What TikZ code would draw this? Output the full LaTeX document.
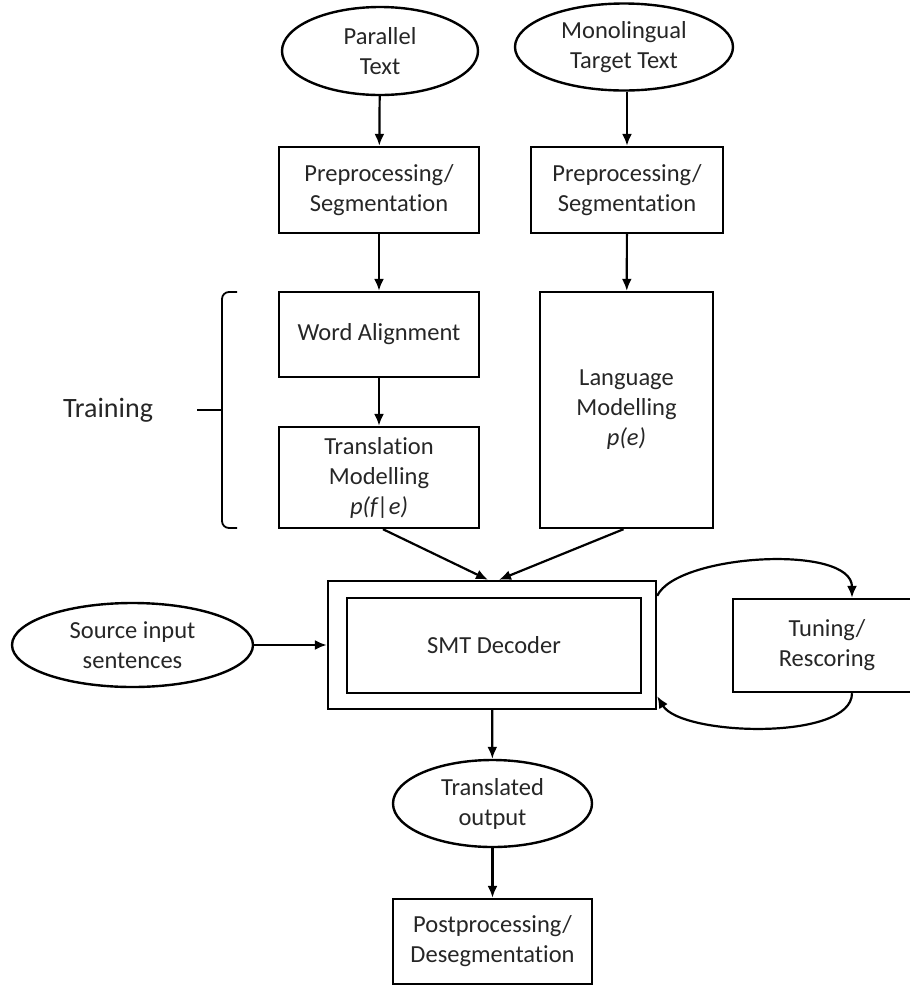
\documentclass[tikz,border=0pt]{standalone}
\usepackage{fontspec}
\setmainfont{Carlito}[RawFeature={-liga;-clig;-calt}]
\usetikzlibrary{arrows.meta,calc,shapes.geometric}
% keep "t" and "i" as separate glyphs
\newcommand{\tisep}{\kern0pt }

\begin{document}
\begin{tikzpicture}[x=1pt,y=-1pt,
  every node/.style={text=black!85, font=\fontsize{24.5}{30}\selectfont,
    align=center, inner sep=0pt},
  box/.style={draw=black, line width=2.4pt, rectangle},
  oval/.style={draw=black, line width=2.4pt, ellipse},
  arr/.style={-{Latex[length=12pt,width=10pt]}, line width=2.2pt, draw=black}]

  \clip (0,0) rectangle (910,986);

  % sources
  \node[oval, minimum width=196, minimum height=88] (par) at (380,51) {Parallel\\Text};
  \node[oval, minimum width=218, minimum height=87] (mono) at (624,47) {Monolingual\\Target Text};

  % preprocessing
  \node[box, minimum width=200, minimum height=86] (pre1) at (379,190) {Preprocessing/\\Segmentat\tisep ion};
  \node[box, minimum width=192, minimum height=86] (pre2) at (627,190) {Preprocessing/\\Segmentat\tisep ion};

  % training stage
  \node[box, minimum width=200, minimum height=85] (wa) at (379,334.5) {Word Alignment};
  \node[box, minimum width=200, minimum height=101] (tm) at (379,477.5)
    {Translat\tisep ion\\Modelling\\\textit{p(f|e)}};
  \node[box, minimum width=173, minimum height=236] (lm) at (626.5,410)
    {Language\\Modelling\\\textit{p(e)}};

  \node[font=\fontsize{28}{32}\selectfont] (train) at (108,410) {Training};
  \coordinate (brtip) at (197,410);
  \draw[line width=1.8pt, rounded corners=7pt] (237,292) -- (222,292) -- (222,410) -- (222,528) -- (237,528);
  \draw[line width=1.8pt] (brtip) -- (222,410);

  % decoding
  \node[box, minimum width=328, minimum height=128] (smt) at (492,645) {};
  \node[box, minimum width=294, minimum height=95] (dec) at (494,645.5) {SMT Decoder};
  \node[oval, minimum width=241, minimum height=84] (src) at (132.5,645) {Source input\\sentences};
  \node[box, minimum width=188, minimum height=93] (tune) at (827,645.5) {Tuning/\\Rescoring};

  \node[oval, minimum width=199, minimum height=87] (out) at (492.5,803.5) {Translated\\output};
  \node[box, minimum width=199, minimum height=85] (post) at (492.5,941.5) {Postprocessing/\\Desegmentat\tisep ion};

  % connectors
  \draw[arr] (par) -- (pre1);
  \draw[arr] (mono.south -| pre2.north) -- (pre2);
  \draw[arr] (pre1) -- (wa);
  \draw[arr] (pre2) -- (lm);
  \draw[arr] (wa) -- (tm);
  \draw[arr] ([xshift=4pt]tm.south) -- ([xshift=-4pt]smt.north);
  \draw[arr] ([xshift=-3pt]lm.south) -- ([xshift=7pt]smt.north);
  \draw[arr] (src) -- (smt);
  \draw[arr] ([yshift=-16pt]smt.north east) .. controls +(20,-42) and +(0,-54) .. ([xshift=25pt]tune.north);
  \draw[arr] ([xshift=25pt]tune.south) .. controls +(0,48) and +(24,40) .. ([yshift=14pt]smt.south east);
  \draw[arr] (smt) -- (out);
  \draw[arr] (out) -- (post);
\end{tikzpicture}
\end{document}
